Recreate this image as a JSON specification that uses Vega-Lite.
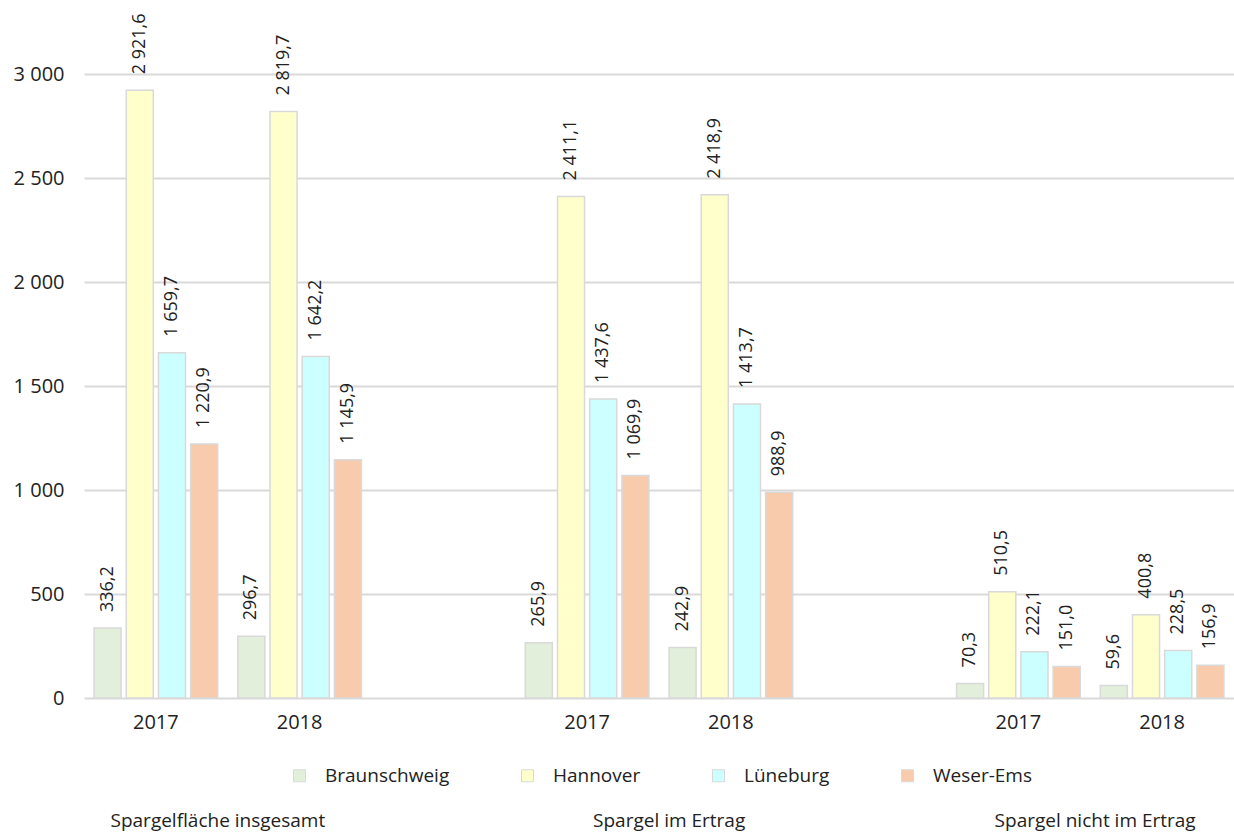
{
  "$schema": "https://vega.github.io/schema/vega-lite/v6.json",
  "width": 1150,
  "height": 624,
  "autosize": "none",
  "padding": {"left": 84, "top": 74, "right": 0, "bottom": 134},
  "background": "white",
  "config": {
    "locale": {"number": {"decimal": ",", "thousands": " ", "grouping": [3], "currency": ["", " €"]}},
    "font": "Open Sans",
    "view": {"stroke": null}
  },
  "datasets": {
    "werte": [
      {"kat": "Spargelfläche insgesamt", "slot": "2017 A", "region": "Braunschweig", "wert": 336.2},
      {"kat": "Spargelfläche insgesamt", "slot": "2017 A", "region": "Hannover", "wert": 2921.6},
      {"kat": "Spargelfläche insgesamt", "slot": "2017 A", "region": "Lüneburg", "wert": 1659.7},
      {"kat": "Spargelfläche insgesamt", "slot": "2017 A", "region": "Weser-Ems", "wert": 1220.9},
      {"kat": "Spargelfläche insgesamt", "slot": "2018 A", "region": "Braunschweig", "wert": 296.7},
      {"kat": "Spargelfläche insgesamt", "slot": "2018 A", "region": "Hannover", "wert": 2819.7},
      {"kat": "Spargelfläche insgesamt", "slot": "2018 A", "region": "Lüneburg", "wert": 1642.2},
      {"kat": "Spargelfläche insgesamt", "slot": "2018 A", "region": "Weser-Ems", "wert": 1145.9},
      {"kat": "Spargel im Ertrag", "slot": "2017 B", "region": "Braunschweig", "wert": 265.9},
      {"kat": "Spargel im Ertrag", "slot": "2017 B", "region": "Hannover", "wert": 2411.1},
      {"kat": "Spargel im Ertrag", "slot": "2017 B", "region": "Lüneburg", "wert": 1437.6},
      {"kat": "Spargel im Ertrag", "slot": "2017 B", "region": "Weser-Ems", "wert": 1069.9},
      {"kat": "Spargel im Ertrag", "slot": "2018 B", "region": "Braunschweig", "wert": 242.9},
      {"kat": "Spargel im Ertrag", "slot": "2018 B", "region": "Hannover", "wert": 2418.9},
      {"kat": "Spargel im Ertrag", "slot": "2018 B", "region": "Lüneburg", "wert": 1413.7},
      {"kat": "Spargel im Ertrag", "slot": "2018 B", "region": "Weser-Ems", "wert": 988.9},
      {"kat": "Spargel nicht im Ertrag", "slot": "2017 C", "region": "Braunschweig", "wert": 70.3},
      {"kat": "Spargel nicht im Ertrag", "slot": "2017 C", "region": "Hannover", "wert": 510.5},
      {"kat": "Spargel nicht im Ertrag", "slot": "2017 C", "region": "Lüneburg", "wert": 222.1},
      {"kat": "Spargel nicht im Ertrag", "slot": "2017 C", "region": "Weser-Ems", "wert": 151.0},
      {"kat": "Spargel nicht im Ertrag", "slot": "2018 C", "region": "Braunschweig", "wert": 59.6},
      {"kat": "Spargel nicht im Ertrag", "slot": "2018 C", "region": "Hannover", "wert": 400.8},
      {"kat": "Spargel nicht im Ertrag", "slot": "2018 C", "region": "Lüneburg", "wert": 228.5},
      {"kat": "Spargel nicht im Ertrag", "slot": "2018 C", "region": "Weser-Ems", "wert": 156.9}
    ],
    "gruppen": [
      {"kat": "Spargelfläche insgesamt", "slot": "2017 A"},
      {"kat": "Spargel im Ertrag", "slot": "2017 B"},
      {"kat": "Spargel nicht im Ertrag", "slot": "2018 C"}
    ]
  },
  "encoding": {
    "x": {
      "field": "slot",
      "type": "nominal",
      "scale": {
        "domain": ["2017 A", "2018 A", "x A", "2017 B", "2018 B", "x B", "2017 C", "2018 C"],
        "paddingInner": 0.14,
        "paddingOuter": 0.07
      },
      "axis": {
        "title": null,
        "labelAngle": 0,
        "labelExpr": "datum.label[0] == 'x' ? '' : slice(datum.label, 0, 4)",
        "labelFontSize": 20,
        "labelColor": "#222222",
        "labelPadding": 14,
        "ticks": false,
        "domain": false
      }
    }
  },
  "layer": [
    {
      "data": {"name": "werte"},
      "mark": {"type": "bar", "stroke": "#d9d9d9", "strokeWidth": 1.5},
      "encoding": {
        "xOffset": {
          "field": "region",
          "type": "nominal",
          "scale": {"paddingInner": 0.16, "paddingOuter": 0}
        },
        "y": {
          "field": "wert",
          "type": "quantitative",
          "scale": {"domain": [0, 3000]},
          "axis": {
            "title": null,
            "values": [0, 500, 1000, 1500, 2000, 2500, 3000],
            "format": ",.0f",
            "labelFontSize": 20,
            "labelColor": "#222222",
            "labelPadding": 20,
            "ticks": false,
            "domain": false,
            "gridColor": "#d9d9d9",
            "gridWidth": 2
          }
        },
        "color": {
          "field": "region",
          "type": "nominal",
          "scale": {
            "domain": ["Braunschweig", "Hannover", "Lüneburg", "Weser-Ems"],
            "range": ["#e2efda", "#ffffcc", "#ccffff", "#f8cbad"]
          },
          "legend": {
            "orient": "none",
            "legendX": 206,
            "legendY": 692,
            "direction": "horizontal",
            "title": null,
            "padding": 0,
            "symbolType": "square",
            "symbolSize": 144,
            "symbolStrokeColor": "#d9d9d9",
            "symbolStrokeWidth": 1,
            "symbolOpacity": 1,
            "labelFontSize": 19,
            "labelColor": "#222222",
            "labelOffset": 16,
            "columnPadding": 68
          }
        }
      }
    },
    {
      "data": {"name": "werte"},
      "mark": {"type": "text", "angle": 270, "align": "left", "baseline": "middle", "dx": 16, "fontSize": 18, "color": "#222222"},
      "encoding": {
        "xOffset": {
          "field": "region",
          "type": "nominal",
          "scale": {"paddingInner": 0.16, "paddingOuter": 0}
        },
        "y": {"field": "wert", "type": "quantitative"},
        "text": {"field": "wert", "type": "quantitative", "format": ",.1f"}
      }
    },
    {
      "data": {"name": "gruppen"},
      "transform": [{"filter": "datum.slot == '2017 A'"}],
      "mark": {"type": "text", "align": "center", "baseline": "alphabetic", "dx": 62, "dy": 129, "fontSize": 19, "color": "#222222"},
      "encoding": {"y": {"datum": 0, "type": "quantitative"}, "text": {"field": "kat"}}
    },
    {
      "data": {"name": "gruppen"},
      "transform": [{"filter": "datum.slot == '2017 B'"}],
      "mark": {"type": "text", "align": "center", "baseline": "alphabetic", "dx": 82, "dy": 129, "fontSize": 19, "color": "#222222"},
      "encoding": {"y": {"datum": 0, "type": "quantitative"}, "text": {"field": "kat"}}
    },
    {
      "data": {"name": "gruppen"},
      "transform": [{"filter": "datum.slot == '2018 C'"}],
      "mark": {"type": "text", "align": "center", "baseline": "alphabetic", "dx": -67, "dy": 129, "fontSize": 19, "color": "#222222"},
      "encoding": {"y": {"datum": 0, "type": "quantitative"}, "text": {"field": "kat"}}
    }
  ]
}
